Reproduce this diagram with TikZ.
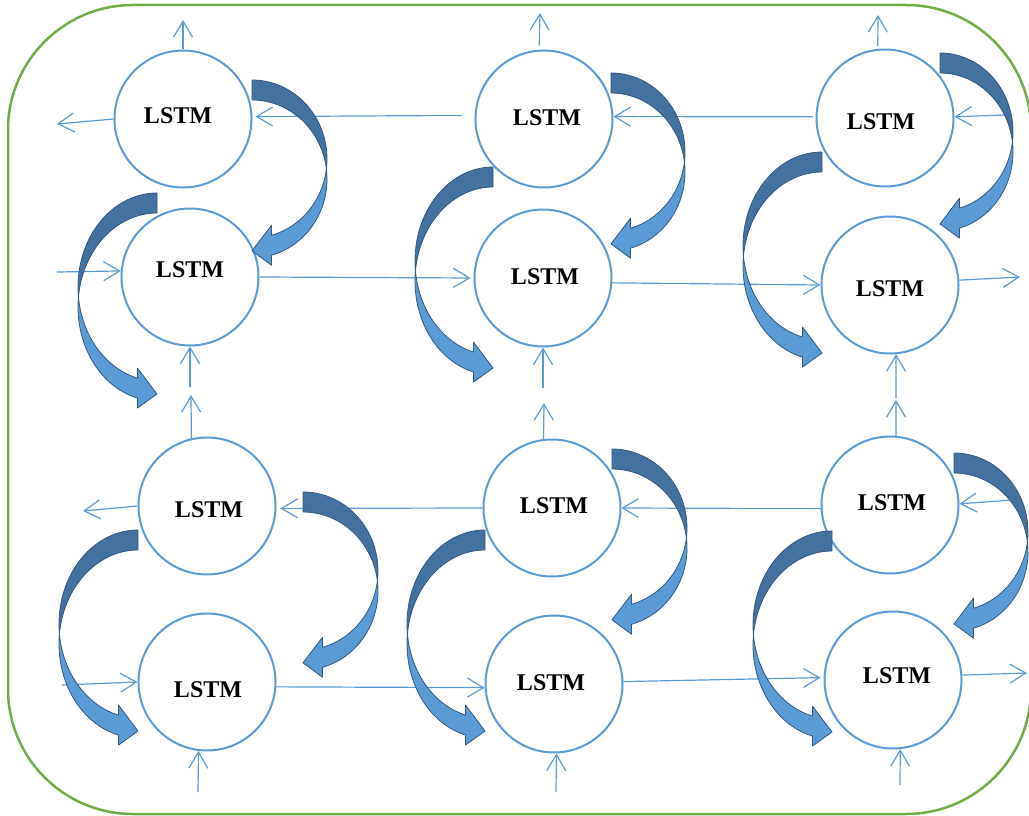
\documentclass[tikz,border=0pt]{standalone}
\usepackage{fontspec}
\setmainfont{Liberation Serif}
\usetikzlibrary{arrows.meta}
\definecolor{cblue}{RGB}{91,155,213}
\definecolor{cdark}{RGB}{68,114,160}
\definecolor{cedge}{RGB}{50,88,128}
\definecolor{cgreen}{RGB}{112,173,71}
\newcommand\bendarrow[5]{%
  \begin{scope}[shift={(#1,#2)},xscale=#3]
    \pgfmathsetmacro\bA{#4}
    \pgfmathsetmacro\bB{#5}
    \pgfmathsetmacro\bAng{asin(10/\bB)}
    \pgfmathsetmacro\bTh{acos(19.5/\bA)}
    \pgfmathsetmacro\bYa{\bB*(1+sin(\bTh))}
    \pgfmathsetmacro\bYb{\bYa+20}
    \pgfmathsetmacro\bTip{\bYa+10+19.5*\bB*cos(\bTh)/(\bA*sin(\bTh))}
    \filldraw[backpart] plot[domain=-90:\bAng,samples=40] ({\bA*cos(\x)},{\bB+\bB*sin(\x)})
       -- plot[domain=-\bAng:-90,samples=40] ({\bA*cos(\x)},{\bB+20+\bB*sin(\x)}) -- cycle;
    \filldraw[frontpart] plot[domain=\bAng:\bTh,samples=40] ({\bA*cos(\x)},{\bB+\bB*sin(\x)})
       -- (19.5,\bYa-10) -- (0,\bTip) -- (19.5,\bYb+10)
       -- plot[domain=\bTh:-\bAng,samples=40] ({\bA*cos(\x)},{\bB+20+\bB*sin(\x)}) -- cycle;
  \end{scope}}
\begin{document}
\begin{tikzpicture}[x=1pt,y=-1pt,
  cell/.style={circle,draw=cblue,line width=2pt,fill=white,minimum size=137pt,inner sep=0pt},
  lbl/.style={font=\fontsize{24}{28}\selectfont\bfseries,inner sep=0pt},
  conn/.style={draw=cblue,line width=1.2pt,-{Straight Barb[length=16pt,width=19pt]}},
  backpart/.style={fill=cdark,draw=cedge,line width=0.8pt,line join=round},
  frontpart/.style={fill=cblue,draw=cedge,line width=0.8pt,line join=round}]
\useasboundingbox (0,0) rectangle (1029,816);
\draw[cgreen,line width=2.5pt,rounded corners=125pt] (8,5) rectangle (1031,814);

% cells
\node[cell] (A1) at (183,119) {};
\node[cell] (B1) at (190,277) {};
\node[cell] (A2) at (544,119) {};
\node[cell] (B2) at (543,278) {};
\node[cell] (A3) at (885,118) {};
\node[cell] (B3) at (890,285) {};
\node[cell] (C1) at (207,506) {};
\node[cell] (D1) at (207,682) {};
\node[cell] (C2) at (552,508) {};
\node[cell] (D2) at (554,684) {};
\node[cell] (C3) at (890,505) {};
\node[cell] (D3) at (893,680) {};

\node[lbl] (tA1) at (178,116) {LSTM};
\node[lbl] (tB1) at (190,270) {LSTM};
\node[lbl] (tA2) at (547,118) {LSTM};
\node[lbl] (tB2) at (545,277) {LSTM};
\node[lbl] (tA3) at (881,122) {LSTM};
\node[lbl] (tB3) at (890,289) {LSTM};
\node[lbl] (tC1) at (209,510) {LSTM};
\node[lbl] (tD1) at (208,690) {LSTM};
\node[lbl] (tC2) at (554,506) {LSTM};
\node[lbl] (tD2) at (551,683) {LSTM};
\node[lbl] (tC3) at (892,503) {LSTM};
\node[lbl] (tD3) at (897,676) {LSTM};

% free ends
\coordinate (a1up) at (183,20);
\coordinate (a1w) at (57,124);
\coordinate (b1w) at (57,272);
\coordinate (b1s) at (190,387);
\coordinate (a2up) at (540,13);
\coordinate (b2s) at (543,388);
\coordinate (c2up) at (544,403);
\coordinate (a3up) at (878,15);
\coordinate (a3e) at (1005,115);
\coordinate (b3e) at (1020,277);
\coordinate (b3s) at (896,398);
\coordinate (c3up) at (896,400);
\coordinate (c1up) at (191,395);
\coordinate (c1w) at (83,511);
\coordinate (d1w) at (62,685);
\coordinate (d1s) at (198,792);
\coordinate (d2s) at (556,792);
\coordinate (c3e) at (1012,500);
\coordinate (d3e) at (1027,673);
\coordinate (d3s) at (900,785);

% connectors
\draw[conn] (A1.north) -- (a1up);
\draw[conn] (A1.west) -- (a1w);
\draw[conn,shorten <=13pt,shorten >=3pt] (A2.177) -- (A1.2);
\draw[conn] (b1w) -- (B1.175);
\draw[conn,shorten >=3pt] (B1.east) -- (B2.west);
\draw[conn] (b1s) -- (B1.south);
\draw[conn,shorten <=4pt] (A2.94) -- (a2up);
\draw[conn,shorten <=3pt] (A3.179) -- (A2.2);
\draw[conn] (B2.-4) -- (B3.west);
\draw[conn] (b2s) -- (B2.south);
\draw[conn] (C2.97) -- (c2up);
\draw[conn,shorten <=3pt] (A3.96) -- (a3up);
\draw[conn] (a3e) -- (A3.1);
\draw[conn] (B3.4) -- (b3e);
\draw[conn] (b3s) -- (B3.-85);
\draw[conn] (C3.85) -- (c3up);
\draw[conn] (C1.103) -- (c1up);
\draw[conn] (C1.west) -- (c1w);
\draw[conn,shorten >=4pt] (C2.west) -- (C1.-2);
\draw[conn] (d1w) -- (D1.west);
\draw[conn] (D1.-4) -- (D2.183);
\draw[conn] (d1s) -- (D1.-97);
\draw[conn] (C3.183) -- (C2.east);
\draw[conn,shorten >=3pt] (D2.2) -- (D3.178);
\draw[conn] (d2s) -- (D2.-88);
\draw[conn] (c3e) -- (C3.1);
\draw[conn] (D3.4) -- (d3e);
\draw[conn] (d3s) -- (D3.-84);

% curved block arrows
\bendarrow{252}{80}{1}{75}{79}
\bendarrow{157}{193}{-1}{79}{94}
\bendarrow{611}{73}{1}{74}{79}
\bendarrow{493}{167}{-1}{78}{94}
\bendarrow{940}{53}{1}{73}{79}
\bendarrow{822}{152}{-1}{79}{94}
\bendarrow{303}{492}{1}{75}{79}
\bendarrow{138}{530}{-1}{79}{94}
\bendarrow{612}{449}{1}{75}{79}
\bendarrow{485}{530}{-1}{78}{94}
\bendarrow{954}{453}{1}{74}{79}
\bendarrow{832}{531}{-1}{79}{94}
\end{tikzpicture}
\end{document}
